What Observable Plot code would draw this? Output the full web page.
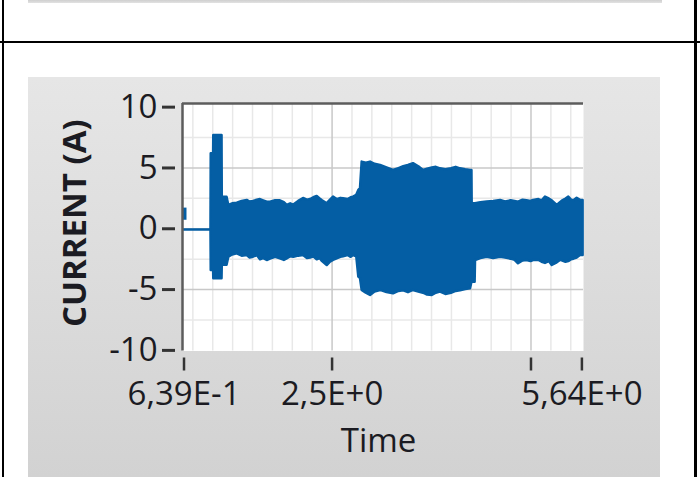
<!DOCTYPE html>
<html><head><meta charset="utf-8">
<script src="https://cdn.jsdelivr.net/npm/d3@7"></script>
<script src="https://cdn.jsdelivr.net/npm/@observablehq/plot@0.6"></script>
<style>
html,body{margin:0;padding:0;background:#fff;}
#page{position:relative;width:700px;height:477px;overflow:hidden;background:#fff;}
.abs{position:absolute;}
</style></head><body>
<div id="page">
  <div class="abs" style="left:28px;top:0;width:634px;height:3px;background:linear-gradient(#cfcfcf,#e2e2e2);"></div>
  <div class="abs" style="left:0;top:41px;width:700px;height:2px;background:#000;"></div>
  <div class="abs" style="left:2px;top:0;width:2px;height:477px;background:#000;"></div>
  <div class="abs" style="left:694px;top:0;width:3px;height:477px;background:#000;"></div>
  <div class="abs" style="left:28px;top:77px;width:632px;height:400px;background:linear-gradient(#e6e6e6,#d2d2d2);"></div>
  <div id="chart" class="abs" style="left:0;top:0;"></div>
</div>
<script>
// Envelope of the current signal (A) over time (s)
const times  = [0.640, 0.978, 0.981, 1.011, 1.013, 1.117, 1.120, 1.180, 1.202, 1.250, 1.308, 1.370, 1.433, 1.470, 1.512, 1.560, 1.600, 1.640, 1.685, 1.726, 1.790, 1.850, 1.900, 1.936, 1.980, 2.019, 2.080, 2.141, 2.190, 2.230, 2.270, 2.313, 2.350, 2.380, 2.439, 2.480, 2.518, 2.564, 2.610, 2.644, 2.700, 2.740, 2.769, 2.810, 2.836, 2.857, 2.878, 2.930, 2.983, 3.040, 3.109, 3.190, 3.272, 3.340, 3.400, 3.460, 3.523, 3.590, 3.649, 3.700, 3.760, 3.810, 3.863, 3.930, 4.000, 4.060, 4.114, 4.180, 4.240, 4.258, 4.261, 4.298, 4.303, 4.370, 4.450, 4.530, 4.617, 4.680, 4.750, 4.800, 4.843, 4.900, 4.950, 5.000, 5.032, 5.100, 5.140, 5.182, 5.230, 5.267, 5.330, 5.370, 5.400, 5.440, 5.475, 5.510, 5.540, 5.580, 5.622, 5.655];
const lowerA = [-0.10, -0.10, -3.43, -3.43, -4.11, -4.11, -3.00, -3.00, -2.34, -2.15, -2.06, -2.25, -2.20, -2.40, -2.34, -2.20, -2.55, -2.45, -2.61, -2.50, -2.35, -2.47, -2.60, -2.47, -2.30, -2.35, -2.25, -2.20, -2.45, -2.40, -2.30, -2.55, -2.45, -2.70, -3.02, -2.75, -2.60, -2.47, -2.35, -2.30, -2.20, -2.35, -2.20, -2.30, -3.98, -4.10, -5.07, -5.30, -5.48, -5.20, -5.07, -5.25, -5.35, -5.15, -5.10, -5.25, -5.07, -5.20, -5.30, -5.45, -5.48, -5.30, -5.21, -5.40, -5.30, -5.15, -5.10, -5.00, -4.93, -4.39, -4.39, -4.39, -2.61, -2.45, -2.34, -2.45, -2.34, -2.40, -2.50, -2.60, -2.88, -2.65, -2.61, -2.70, -2.61, -2.60, -2.75, -2.85, -2.70, -3.02, -2.80, -2.60, -2.65, -2.75, -2.70, -2.55, -2.50, -2.40, -2.20, -2.20];
const upperA = [-0.10, -0.10, 6.17, 6.17, 7.67, 7.67, 2.60, 2.60, 1.92, 2.05, 2.10, 2.25, 2.33, 2.20, 2.25, 2.35, 2.40, 2.30, 2.19, 2.19, 2.30, 2.30, 2.15, 1.92, 2.05, 1.95, 2.25, 2.49, 2.35, 2.40, 2.55, 2.66, 2.45, 2.30, 2.06, 2.35, 2.60, 2.40, 2.50, 2.47, 2.40, 2.55, 2.60, 2.75, 3.15, 3.30, 5.48, 5.40, 5.48, 5.30, 5.21, 5.00, 4.79, 4.95, 5.10, 5.20, 5.35, 5.10, 4.79, 4.90, 5.00, 5.05, 4.93, 4.85, 4.93, 5.05, 4.93, 4.85, 4.79, 4.79, 2.06, 2.06, 2.06, 2.15, 2.20, 2.25, 2.33, 2.20, 2.30, 2.25, 2.19, 2.35, 2.30, 2.25, 2.33, 2.40, 2.30, 2.60, 2.45, 2.30, 1.92, 2.15, 2.30, 2.45, 2.60, 2.35, 2.30, 2.50, 2.33, 2.33];
const blipTime = [0.645], blipLow = [0.7], blipHigh = [1.7];

const xTickValues = [0.639, 2.5, 5.0, 5.64];
const xTickLabels = ["6,39E-1", "2,5E+0", "", "5,64E+0"];
const yTickValues = [10, 5, 0, -5, -10];
const yTickLabels = ["10", "5", "0", "-5", "-10"];
const xMajorGrid = [2.5, 5.0];
const xMinorGrid = [0.75, 1, 1.25, 1.5, 1.75, 2, 2.25, 2.75, 3, 3.25, 3.5, 3.75, 4, 4.25, 4.5, 4.75, 5.25, 5.5];
const yMajorGrid = [5, 0, -5];
const yMinorGrid = [7.5, 2.5, -2.5, -7.5];
const yLabel = "CURRENT (A)";
const xLabel = "Time";

const xDomain = [0.62, 5.66];
const yDomain = [-10.05, 10.3];

const data = times.map((t, i) => ({t, lo: lowerA[i], hi: upperA[i]}));
const blip = blipTime.map((t, i) => ({t, lo: blipLow[i], hi: blipHigh[i]}));

const traceColor = "#045ea4";
const ink = "#1b1b22";

const chart = Plot.plot({
  width: 700,
  height: 477,
  marginLeft: 182,
  marginRight: 117,
  marginTop: 103,
  marginBottom: 126.5,
  style: {background: "transparent", fontFamily: "'Open Sans', sans-serif", fontSize: "33px", overflow: "visible", color: ink},
  x: {domain: xDomain},
  y: {domain: yDomain},
  marks: [
    Plot.frame({fill: "white", stroke: null}),
    Plot.ruleX(xMinorGrid, {stroke: "#e8e8e8", strokeWidth: 1.5}),
    Plot.ruleY(yMinorGrid, {stroke: "#e8e8e8", strokeWidth: 1.5}),
    Plot.ruleX(xMajorGrid, {stroke: "#c8c8c8", strokeWidth: 1.5}),
    Plot.ruleY(yMajorGrid, {stroke: "#c8c8c8", strokeWidth: 1.5}),
    Plot.areaY(data, {x: "t", y1: "lo", y2: "hi", fill: traceColor, stroke: traceColor, strokeWidth: 2.5, strokeLinejoin: "round"}),
    Plot.ruleX(blip, {x: "t", y1: "lo", y2: "hi", stroke: traceColor, strokeWidth: 4}),
    Plot.ruleY([yDomain[1]], {stroke: "#5c5c5c", strokeWidth: 2.5}),
    Plot.ruleX([xDomain[0]], {stroke: "#5c5c5c", strokeWidth: 2.5}),
    Plot.axisX({ticks: xTickValues, tickFormat: d => xTickLabels[xTickValues.indexOf(d)], tickSize: 13, tickPadding: 11, dy: 7, stroke: "#333", strokeWidth: 2.5, fill: ink, label: null}),
    Plot.axisY({ticks: yTickValues, tickFormat: d => yTickLabels[yTickValues.indexOf(d)], tickSize: 13, tickPadding: 5, dx: -7, stroke: "#333", strokeWidth: 3, fill: ink, label: null}),
    Plot.text([yLabel], {frameAnchor: "left", rotate: -90, dx: -107, dy: -4, fontWeight: "bold", fill: ink, textAnchor: "middle", lineAnchor: "middle"}),
    Plot.text([xLabel], {frameAnchor: "bottom", dx: -4.5, dy: 77.5, fill: ink, textAnchor: "middle", lineAnchor: "top"})
  ]
});
document.getElementById("chart").appendChild(chart);
</script>
</body></html>
